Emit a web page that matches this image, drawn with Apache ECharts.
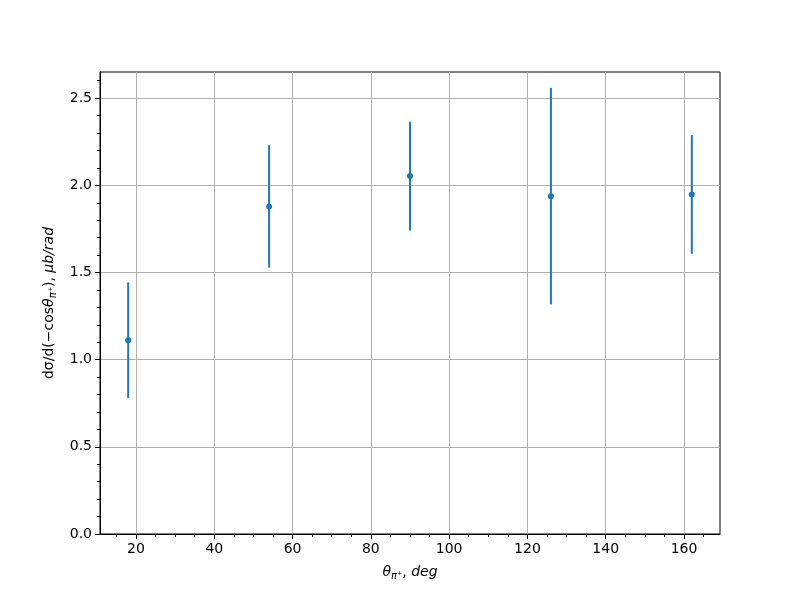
<!DOCTYPE html>
<html>
<head>
<meta charset="utf-8">
<script src="https://cdn.jsdelivr.net/npm/echarts@6/dist/echarts.min.js"></script>
<style>html,body{margin:0;padding:0;background:#fff;}#c{width:800px;height:600px;}</style>
</head>
<body>
<div id="c"></div>
<script>
var thetas = [18, 54, 90, 126, 162];
var values = [1.111, 1.879, 2.053, 1.938, 1.948];
var errors = [0.332, 0.351, 0.312, 0.621, 0.340];
var xTicks = [20, 40, 60, 80, 100, 120, 140, 160];
var yTicks = [0, 0.5, 1.0, 1.5, 2.0, 2.5];

var color = '#1f77b4';
var font = 'DejaVu Sans';
var chart = echarts.init(document.getElementById('c'), null, {renderer: 'canvas'});

var pts = thetas.map(function (t, i) { return [t, values[i], errors[i]]; });

var richStyles = {
  i: {fontFamily: font, fontStyle: 'italic', fontSize: 14, color: '#000', lineHeight: 18},
  n: {fontFamily: font, fontSize: 14, color: '#000', lineHeight: 18},
  s: {fontFamily: font, fontStyle: 'italic', fontSize: 10, color: '#000', lineHeight: 18, verticalAlign: 'bottom', padding: [4, 0, 0, 0]}
};

chart.setOption({
  animation: false,
  backgroundColor: '#fff',
  grid: {left: 100, right: 80, top: 72, bottom: 66, show: true, borderColor: '#000', borderWidth: 1, backgroundColor: 'transparent'},
  xAxis: {
    type: 'value', min: 10.8, max: 169.2, splitNumber: 8, minInterval: 20, maxInterval: 20,
    axisLine: {show: true, onZero: false, lineStyle: {color: '#000', width: 1}},
    axisTick: {show: true, inside: false, length: 5, customValues: xTicks, lineStyle: {color: '#000', width: 1}},
    minorTick: {show: true, splitNumber: 4, length: 3, lineStyle: {color: '#000', width: 1}},
    axisLabel: {color: '#000', fontFamily: font, fontSize: 14, margin: 8, customValues: xTicks},
    splitLine: {show: true, lineStyle: {color: '#b0b0b0', width: 1}},
    name: '{i|θ}{s|π⁺}{n|, }{i|deg}',
    nameLocation: 'middle', nameGap: 29,
    nameTextStyle: {rich: richStyles}
  },
  yAxis: {
    type: 'value', min: 0, max: 2.65, interval: 0.5,
    axisLine: {show: true, onZero: false, lineStyle: {color: '#000', width: 1}},
    axisTick: {show: true, inside: false, length: 5, customValues: yTicks, lineStyle: {color: '#000', width: 1}},
    minorTick: {show: true, splitNumber: 5, length: 3, lineStyle: {color: '#000', width: 1}},
    axisLabel: {color: '#000', fontFamily: font, fontSize: 14, margin: 8, customValues: yTicks, formatter: function (v) { return v.toFixed(1); }},
    splitLine: {show: true, lineStyle: {color: '#b0b0b0', width: 1}},
    name: '{n|dσ/d(−cos}{i|θ}{s|π⁺}{n|), }{i|μb/rad}',
    nameLocation: 'middle', nameGap: 35,
    nameTextStyle: {rich: richStyles}
  },
  series: [
    {
      type: 'custom',
      data: pts,
      z: 2,
      renderItem: function (params, api) {
        var x = api.value(0), y = api.value(1), e = api.value(2);
        var p1 = api.coord([x, y - e]);
        var p2 = api.coord([x, y + e]);
        return {
          type: 'line',
          shape: {x1: p1[0], y1: p1[1], x2: p2[0], y2: p2[1]},
          style: {stroke: color, lineWidth: 2}
        };
      },
      encode: {x: 0, y: 1}
    },
    {
      type: 'scatter',
      data: pts.map(function (p) { return [p[0], p[1]]; }),
      symbol: 'circle', symbolSize: 6, z: 3,
      itemStyle: {color: color, opacity: 1}
    }
  ]
});
</script>
</body>
</html>
